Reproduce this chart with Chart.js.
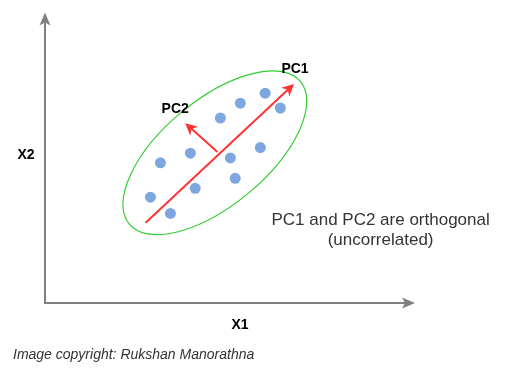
<!DOCTYPE html>
<html><head><meta charset="utf-8">
<script src="https://cdn.jsdelivr.net/npm/chart.js@4"></script>
<style>html,body{margin:0;padding:0;background:#fff}#wrap{width:506px;height:379px;position:relative}</style>
</head><body><div id="wrap"><canvas id="c"></canvas></div>
<script>
// Data points (X1, X2)
const pointsX1 = [3.12, 3.93, 4.74, 5.28, 5.95, 6.36, 5.82, 5.01, 5.14, 4.06, 2.85, 3.39];
const pointsX2 = [3.79, 4.05, 5.00, 5.40, 5.67, 5.27, 4.20, 3.92, 3.37, 3.10, 2.86, 2.42];
// Principal component arrows (from, to) in data units
const pc1From = [2.72, 2.17];
const pc1To   = [6.73, 5.92];
const pc2From = [4.66, 4.08];
const pc2To   = [3.79, 4.86];
// Ellipse around the data
const ellipseCenter = [4.59, 4.06];
const ellipseRadii = [3.01, 1.42];
const ellipseAngleDeg = 39.8;
// Axis extents
const axisX1End = 10.0;
const axisX2End = 7.85;
// Text
const axisLabels = ['X1', 'X2'];
const pcLabels = ['PC1', 'PC2'];
const noteLines = ['PC1 and PC2 are orthogonal', '(uncorrelated)'];
const caption = 'Image copyright: Rukshan Manorathna';
// View range
const xRange = [-1.216, 12.459];
const yRange = [-2.054, 8.189];

const FONT = '"Liberation Sans", Arial, Helvetica, sans-serif';

function arrowHead(ctx, tx, ty, fx, fy, L, W, N, color) {
  const dx = tx - fx, dy = ty - fy, len = Math.hypot(dx, dy);
  const ux = dx / len, uy = dy / len, nx = -uy, ny = ux;
  ctx.beginPath();
  ctx.moveTo(tx, ty);
  ctx.lineTo(tx - L * ux + W * nx, ty - L * uy + W * ny);
  ctx.lineTo(tx - (L - N) * ux, ty - (L - N) * uy);
  ctx.lineTo(tx - L * ux - W * nx, ty - L * uy - W * ny);
  ctx.closePath();
  ctx.fillStyle = color;
  ctx.fill();
  return [tx - (L - N) * ux, ty - (L - N) * uy];
}

const diagram = {
  id: 'diagram',
  beforeDatasetsDraw(chart) {
    const ctx = chart.ctx, sx = chart.scales.x, sy = chart.scales.y;
    const X = v => sx.getPixelForValue(v), Y = v => sy.getPixelForValue(v);
    ctx.save();
    // axes
    const ox = X(0), oy = Y(0), xt = X(axisX1End), yt = Y(axisX2End);
    const gray = '#808080';
    const xEnd = arrowHead(ctx, xt, oy, ox, oy, 13, 5.5, 3, gray);
    const yEnd = arrowHead(ctx, ox, yt, ox, oy, 13, 5.5, 3, gray);
    ctx.beginPath();
    ctx.moveTo(yEnd[0], yEnd[1]);
    ctx.lineTo(ox, oy);
    ctx.lineTo(xEnd[0], xEnd[1]);
    ctx.lineWidth = 2; ctx.strokeStyle = gray; ctx.lineJoin = 'miter';
    ctx.stroke();
    // ellipse
    const cx = X(ellipseCenter[0]), cy = Y(ellipseCenter[1]);
    const rx = X(ellipseCenter[0] + ellipseRadii[0]) - cx;
    const ry = X(ellipseCenter[0] + ellipseRadii[1]) - cx;
    ctx.beginPath();
    ctx.ellipse(cx, cy, rx, ry, -ellipseAngleDeg * Math.PI / 180, 0, 2 * Math.PI);
    ctx.lineWidth = 1.2; ctx.strokeStyle = '#33CC33';
    ctx.stroke();
    // PC arrows
    const red = '#FF3333';
    [[pc1From, pc1To], [pc2From, pc2To]].forEach(([f, t]) => {
      const fx = X(f[0]), fy = Y(f[1]), tx = X(t[0]), ty = Y(t[1]);
      const e = arrowHead(ctx, tx, ty, fx, fy, 12, 6, 3.5, red);
      ctx.beginPath(); ctx.moveTo(fx, fy); ctx.lineTo(e[0], e[1]);
      ctx.lineWidth = 2; ctx.strokeStyle = red; ctx.lineCap = 'butt'; ctx.stroke();
    });
    // text
    ctx.textAlign = 'center'; ctx.textBaseline = 'alphabetic';
    ctx.fillStyle = '#000';
    ctx.font = 'bold 14px ' + FONT;
    ctx.fillText(pcLabels[0], X(pc1To[0]) + 1, Y(pc1To[1]) - 11);
    ctx.fillText(pcLabels[1], X(pc2To[0]) - 10, Y(pc2To[1]) - 10);
    ctx.fillText(axisLabels[0], X(5.27), oy + 26);
    ctx.fillText(axisLabels[1], ox - 19, Y(3.9) + 0.5);
    ctx.fillStyle = '#333';
    ctx.font = '17px ' + FONT;
    ctx.fillText(noteLines[0], X(9.07), Y(2.12));
    ctx.fillText(noteLines[1], X(9.07), Y(1.58));
    ctx.textAlign = 'left';
    ctx.font = 'italic 14px ' + FONT;
    ctx.fillText(caption, 13, oy + 55.5);
    ctx.restore();
  }
};

new Chart(document.getElementById('c'), {
  type: 'scatter',
  data: {
    datasets: [{
      label: 'data',
      data: pointsX1.map((x, i) => ({ x, y: pointsX2[i] })),
      backgroundColor: '#7EA6E0',
      borderWidth: 0,
      pointRadius: 5.5,
      pointHoverRadius: 5.5
    }]
  },
  options: {
    responsive: true,
    maintainAspectRatio: false,
    animation: false,
    layout: { padding: 0, autoPadding: false },
    events: [],
    scales: {
      x: { type: 'linear', min: xRange[0], max: xRange[1], display: false },
      y: { type: 'linear', min: yRange[0], max: yRange[1], display: false }
    },
    plugins: { legend: { display: false }, tooltip: { enabled: false } }
  },
  plugins: [diagram]
});
</script>
</body></html>
